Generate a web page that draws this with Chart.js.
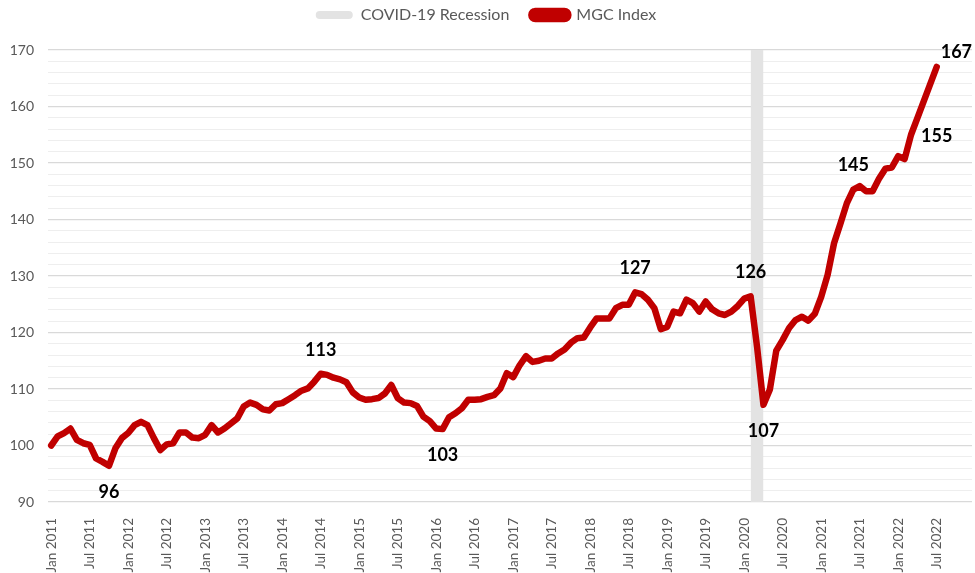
<!DOCTYPE html>
<html>
<head>
<meta charset="utf-8">
<script src="https://cdn.jsdelivr.net/npm/chart.js@4.4.1/dist/chart.umd.min.js"></script>
<style>
  html, body { margin: 0; padding: 0; background: #fff; }
  #wrap { width: 975px; height: 573px; position: relative; }
</style>
</head>
<body>
<div id="wrap"><canvas id="chart"></canvas></div>
<script>
// monthly categories, Jan 2011 - Dec 2022
const categories = [
  'Jan 2011','Feb 2011','Mar 2011','Apr 2011','May 2011','Jun 2011','Jul 2011','Aug 2011','Sep 2011','Oct 2011','Nov 2011','Dec 2011',
  'Jan 2012','Feb 2012','Mar 2012','Apr 2012','May 2012','Jun 2012','Jul 2012','Aug 2012','Sep 2012','Oct 2012','Nov 2012','Dec 2012',
  'Jan 2013','Feb 2013','Mar 2013','Apr 2013','May 2013','Jun 2013','Jul 2013','Aug 2013','Sep 2013','Oct 2013','Nov 2013','Dec 2013',
  'Jan 2014','Feb 2014','Mar 2014','Apr 2014','May 2014','Jun 2014','Jul 2014','Aug 2014','Sep 2014','Oct 2014','Nov 2014','Dec 2014',
  'Jan 2015','Feb 2015','Mar 2015','Apr 2015','May 2015','Jun 2015','Jul 2015','Aug 2015','Sep 2015','Oct 2015','Nov 2015','Dec 2015',
  'Jan 2016','Feb 2016','Mar 2016','Apr 2016','May 2016','Jun 2016','Jul 2016','Aug 2016','Sep 2016','Oct 2016','Nov 2016','Dec 2016',
  'Jan 2017','Feb 2017','Mar 2017','Apr 2017','May 2017','Jun 2017','Jul 2017','Aug 2017','Sep 2017','Oct 2017','Nov 2017','Dec 2017',
  'Jan 2018','Feb 2018','Mar 2018','Apr 2018','May 2018','Jun 2018','Jul 2018','Aug 2018','Sep 2018','Oct 2018','Nov 2018','Dec 2018',
  'Jan 2019','Feb 2019','Mar 2019','Apr 2019','May 2019','Jun 2019','Jul 2019','Aug 2019','Sep 2019','Oct 2019','Nov 2019','Dec 2019',
  'Jan 2020','Feb 2020','Mar 2020','Apr 2020','May 2020','Jun 2020','Jul 2020','Aug 2020','Sep 2020','Oct 2020','Nov 2020','Dec 2020',
  'Jan 2021','Feb 2021','Mar 2021','Apr 2021','May 2021','Jun 2021','Jul 2021','Aug 2021','Sep 2021','Oct 2021','Nov 2021','Dec 2021',
  'Jan 2022','Feb 2022','Mar 2022','Apr 2022','May 2022','Jun 2022','Jul 2022','Aug 2022','Sep 2022','Oct 2022','Nov 2022','Dec 2022'
];

// MGC Index, one value per month (Jan 2011 - Jul 2022)
const mgcIndex = [
  100.0, 101.6, 102.2, 103.0, 101.0, 100.4, 100.1, 97.7, 97.1, 96.4, 99.5, 101.3,
  102.2, 103.6, 104.2, 103.6, 101.3, 99.2, 100.2, 100.4, 102.3, 102.3, 101.4, 101.3,
  101.9, 103.6, 102.3, 103.0, 103.9, 104.8, 106.9, 107.6, 107.2, 106.4, 106.2, 107.3,
  107.5, 108.2, 108.9, 109.7, 110.1, 111.3, 112.7, 112.5, 112.0, 111.7, 111.2, 109.4,
  108.5, 108.1, 108.2, 108.4, 109.2, 110.7, 108.4, 107.6, 107.5, 107.0, 105.1, 104.3,
  103.0, 102.9, 105.0, 105.7, 106.6, 108.1, 108.1, 108.2, 108.6, 108.9, 110.1, 112.8,
  112.1, 114.2, 115.8, 114.8, 115.0, 115.4, 115.4, 116.3, 117.0, 118.2, 119.0, 119.1,
  120.9, 122.5, 122.5, 122.5, 124.3, 124.9, 124.9, 127.1, 126.8, 125.8, 124.3, 120.6,
  121.0, 123.7, 123.4, 125.8, 125.2, 123.7, 125.5, 124.1, 123.4, 123.1, 123.7, 124.7,
  126.0, 126.4, 117.5, 107.2, 109.9, 116.8, 118.7, 120.8, 122.2, 122.8, 122.1, 123.3,
  126.3, 130.2, 135.8, 139.3, 142.9, 145.3, 145.9, 145.0, 145.0, 147.2, 149.0, 149.2,
  151.2, 150.7, 155.0, 158.0, 161.0, 164.0, 167.0
];

// COVID-19 recession shading
const recessionMonths = ['Feb 2020', 'Mar 2020', 'Apr 2020'];
const recessionTop = 170;

// labelled points
const labelPoints = [
  { month: 'Oct 2011', place: 'below' },
  { month: 'Jul 2014', place: 'above' },
  { month: 'Feb 2016', place: 'below' },
  { month: 'Aug 2018', place: 'above' },
  { month: 'Feb 2020', place: 'above' },
  { month: 'Apr 2020', place: 'below' },
  { month: 'Jun 2021', place: 'above' },
  { month: 'Mar 2022', place: 'right' },
  { month: 'Jul 2022', place: 'aboveRight' }
];

const FONT = 'Lato, "Open Sans", sans-serif';
const GREY_TEXT = '#595959';

const placeOffsets = {
  above:      { dx: 0,  dy: -24, align: 'center' },
  below:      { dx: 0,  dy: 26,  align: 'center' },
  right:      { dx: 10, dy: 1,   align: 'left' },
  aboveRight: { dx: 4,  dy: -15, align: 'left' }
};

const valueLabels = {
  id: 'valueLabels',
  afterDatasetsDraw(chart) {
    const ctx = chart.ctx;
    const meta = chart.getDatasetMeta(1);
    ctx.save();
    ctx.font = 'bold 18px ' + FONT;
    ctx.fillStyle = '#000';
    ctx.textBaseline = 'middle';
    labelPoints.forEach(function(p) {
      const i = categories.indexOf(p.month);
      const pt = meta.data[i];
      if (!pt) return;
      const o = placeOffsets[p.place];
      ctx.textAlign = o.align;
      ctx.fillText(String(Math.round(mgcIndex[i])), pt.x + o.dx, pt.y + o.dy);
    });
    ctx.restore();
  }
};

// fixed legend height so the plot starts where the original does,
// legend drawn a bit higher so its item spacing can stay wide
const legendBox = {
  id: 'legendBox',
  beforeInit(chart) {
    const fit = chart.legend.fit;
    chart.legend.fit = function() {
      fit.call(this);
      this.height = 50;
    };
  },
  afterLayout(chart) {
    chart.legend.top -= 15;
    chart.legend.bottom -= 15;
  }
};

const ctx = document.getElementById('chart').getContext('2d');
new Chart(ctx, {
  type: 'line',
  data: {
    labels: categories,
    datasets: [{
      label: 'COVID-19 Recession',
      data: recessionMonths.map(function(m) { return { x: m, y: recessionTop }; }),
      backgroundColor: '#e3e3e3',
      borderColor: '#e3e3e3',
      borderWidth: 0,
      pointRadius: 0,
      fill: 'start',
      order: 1
    }, {
      label: 'MGC Index',
      data: mgcIndex,
      borderColor: '#c00000',
      backgroundColor: '#c00000',
      borderWidth: 6.5,
      borderJoinStyle: 'round',
      borderCapStyle: 'round',
      pointRadius: 0,
      tension: 0,
      fill: false,
      order: 0
    }]
  },
  options: {
    responsive: true,
    maintainAspectRatio: false,
    devicePixelRatio: 1,
    animation: false,
    layout: { padding: { left: 0, right: 3, top: 0, bottom: 0 } },
    plugins: {
      legend: {
        position: 'top',
        labels: {
          sort: function(a, b) { return a.datasetIndex - b.datasetIndex; },
          boxWidth: 37,
          boxHeight: 8,
          useBorderRadius: true,
          borderRadius: 4,
          padding: 22,
          color: GREY_TEXT,
          font: { family: FONT, size: 16 }
        }
      },
      tooltip: { enabled: false }
    },
    scales: {
      x: {
        type: 'category',
        offset: true,
        grid: { display: false },
        border: { display: false },
        ticks: {
          autoSkip: false,
          maxRotation: 90,
          minRotation: 90,
          padding: 8,
          color: GREY_TEXT,
          font: { family: FONT, size: 13.5 },
          callback: function(v, i) { return i % 6 === 0 ? categories[i] : ''; }
        },
        afterFit: function(scale) {
          scale.height = 71;
          scale.paddingLeft = 0;
          scale.paddingRight = 0;
        }
      },
      y: {
        min: 90,
        max: 170,
        border: { display: false },
        grid: {
          drawTicks: false,
          color: function(c) { return c.tick.value % 10 === 0 ? '#d9d9d9' : '#eeeeee'; },
          lineWidth: function(c) { return c.tick.value % 10 === 0 ? 1.3 : 1; }
        },
        ticks: {
          autoSkip: false,
          stepSize: 2,
          padding: 14,
          color: GREY_TEXT,
          font: { family: FONT, size: 14 },
          callback: function(v) { return v % 10 === 0 ? v : ''; }
        },
        afterFit: function(scale) { scale.width = 48; }
      }
    }
  },
  plugins: [legendBox, valueLabels]
});
</script>
</body>
</html>
